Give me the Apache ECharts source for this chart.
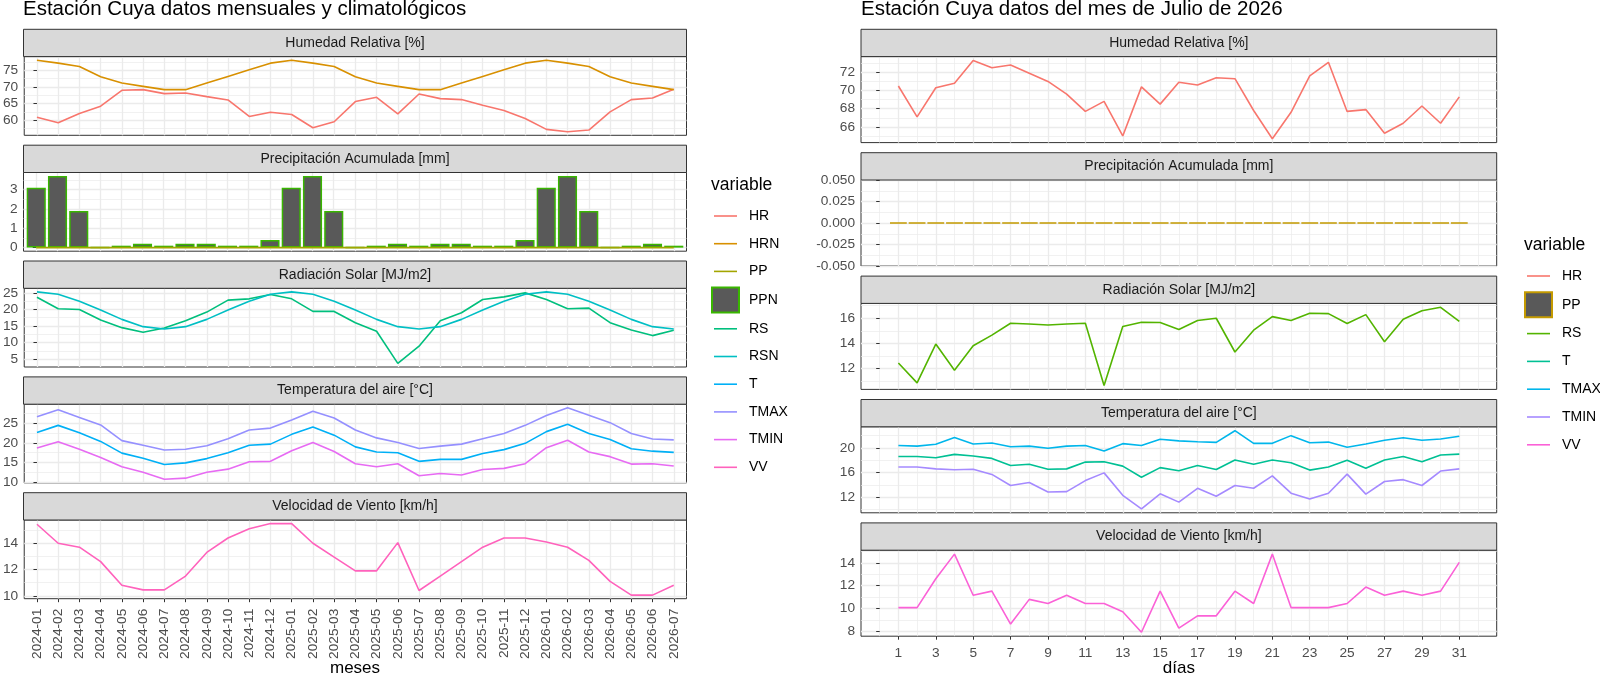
<!DOCTYPE html>
<html><head><meta charset="utf-8">
<script src="https://cdn.jsdelivr.net/npm/echarts@6/dist/echarts.min.js"></script>
<style>html,body{margin:0;padding:0;background:#fff}#c{width:1600px;height:676px}</style>
</head><body><div id="c"></div>
<script>
// ---------- DATA: monthly / climatological ----------
const months = ['2024-01','2024-02','2024-03','2024-04','2024-05','2024-06','2024-07','2024-08','2024-09','2024-10','2024-11','2024-12',
  '2025-01','2025-02','2025-03','2025-04','2025-05','2025-06','2025-07','2025-08','2025-09','2025-10','2025-11','2025-12',
  '2026-01','2026-02','2026-03','2026-04','2026-05','2026-06','2026-07'];
const HR   = [60.9,59.2,62.0,64.2,69.0,69.2,68.0,68.2,67.1,66.1,61.1,62.4,61.7,57.7,59.5,65.6,66.9,61.9,67.9,66.5,66.2,64.5,62.9,60.5,57.2,56.5,57.0,62.5,66.2,66.7,69.3];
const HRN  = [78.1,77.2,76.2,73.1,71.2,70.2,69.2,69.2,71.2,73.2,75.2,77.2,78.1,77.2,76.2,73.1,71.2,70.2,69.2,69.2,71.2,73.2,75.2,77.2,78.1,77.2,76.2,73.1,71.2,70.2,69.2];
const PP   = [0,0,0,0,0,0,0,0,0,0,0,0,0,0,0,0,0,0,0,0,0,0,0,0,0,0,0,0,0,0,0];
const PPN  = [3.1,3.7,1.9,0,0.1,0.2,0.1,0.2,0.2,0.1,0.1,0.4,3.1,3.7,1.9,0,0.1,0.2,0.1,0.2,0.2,0.1,0.1,0.4,3.1,3.7,1.9,0,0.1,0.2,0.1];
const RS   = [23.7,20.2,20.0,16.8,14.5,13.1,14.4,16.6,19.2,22.8,23.2,24.5,23.2,19.4,19.4,16.0,13.4,3.7,8.9,16.6,19.0,23.0,23.8,25.0,23.0,20.2,20.4,16.0,13.8,12.1,13.7];
const RSN  = [25.3,24.6,22.5,19.8,17.0,14.8,14.1,14.8,17.0,19.8,22.5,24.6,25.3,24.6,22.5,19.8,17.0,14.8,14.1,14.8,17.0,19.8,22.5,24.6,25.3,24.6,22.5,19.8,17.0,14.8,14.1];
const T    = [22.7,24.5,22.6,20.4,17.4,16.1,14.5,14.9,16.0,17.5,19.4,19.7,22.2,24.1,22.0,19.0,17.7,17.5,15.3,15.8,15.8,17.3,18.3,19.9,22.9,24.8,22.4,20.9,18.5,17.9,17.6];
const TMAX = [26.7,28.5,26.5,24.6,20.6,19.4,18.2,18.4,19.3,21.1,23.3,23.8,25.9,28.1,26.4,23.3,21.3,20.1,18.6,19.2,19.7,21.1,22.4,24.5,27.0,29.0,27.1,25.2,22.4,21.0,20.8];
const TMIN = [18.7,20.3,18.4,16.3,13.9,12.5,10.7,11.0,12.5,13.3,15.2,15.3,18.0,20.1,17.8,14.7,13.9,14.7,11.6,12.2,11.8,13.2,13.5,14.7,18.8,20.7,17.7,16.5,14.6,14.7,14.1];
const VV   = [15.45,14.0,13.7,12.6,10.8,10.45,10.45,11.5,13.3,14.4,15.1,15.5,15.5,14.0,12.95,11.9,11.9,14.05,10.4,11.5,12.6,13.7,14.4,14.4,14.1,13.7,12.7,11.1,10.05,10.05,10.8];

// ---------- DATA: daily, July 2026 ----------
const days  = [1,2,3,4,5,6,7,8,9,10,11,12,13,14,15,16,17,18,19,20,21,22,23,24,25,26,27,28,29,30,31];
const dayTicks = [1,3,5,7,9,11,13,15,17,19,21,23,25,27,29,31];
const dHR   = [70.5,67.1,70.3,70.8,73.3,72.5,72.8,71.9,71.0,69.6,67.7,68.8,65.0,70.4,68.5,70.9,70.6,71.4,71.3,67.8,64.7,67.6,71.6,73.1,67.7,67.9,65.3,66.4,68.3,66.4,69.3];
const dPP   = [0,0,0,0,0,0,0,0,0,0,0,0,0,0,0,0,0,0,0,0,0,0,0,0,0,0,0,0,0,0,0];
const dRS   = [12.45,10.87,13.95,11.87,13.82,14.66,15.6,15.55,15.47,15.55,15.6,10.66,15.34,15.68,15.66,15.1,15.82,16.0,13.32,15.05,16.13,15.82,16.4,16.37,15.58,16.29,14.13,15.92,16.6,16.87,15.75];
const dT    = [18.6,18.6,18.4,18.95,18.7,18.3,17.15,17.35,16.55,16.6,17.7,17.75,17.05,15.25,16.8,16.3,17.15,16.5,18.05,17.35,18.05,17.6,16.4,16.9,18.0,16.7,18.05,18.6,17.75,18.85,19.0];
const dTMAX = [20.4,20.3,20.6,21.7,20.65,20.8,20.2,20.3,19.95,20.3,20.4,19.5,20.7,20.4,21.4,21.15,21.0,20.9,22.8,20.75,20.75,22.0,20.85,20.95,20.1,20.65,21.25,21.65,21.25,21.45,21.9];
const dTMIN = [16.9,16.9,16.6,16.45,16.55,15.7,13.9,14.4,12.85,12.9,14.7,15.95,12.3,10.1,12.55,11.2,13.45,12.15,13.9,13.45,15.45,12.65,11.7,12.65,15.75,12.5,14.55,14.85,13.9,16.25,16.6];
const dVV   = [10.08,10.08,12.6,14.76,11.16,11.52,8.64,10.8,10.44,11.16,10.44,10.44,9.72,7.92,11.52,8.28,9.36,9.36,11.52,10.44,14.76,10.08,10.08,10.08,10.44,11.88,11.16,11.52,11.16,11.52,14.04];

const stripLabels = ['Humedad Relativa [%]','Precipitación Acumulada [mm]','Radiación Solar [MJ/m2]','Temperatura del aire [°C]','Velocidad de Viento [km/h]'];
const titleLeft  = 'Estación Cuya datos mensuales y climatológicos';
const titleRight = 'Estación Cuya datos del mes de Julio de 2026';
const xTitleLeft = 'meses';
const xTitleRight = 'días';
const legendLeft  = ['HR','HRN','PP','PPN','RS','RSN','T','TMAX','TMIN','VV'];
const legendLeftBars = ['PPN'];
const legendRight = ['HR','PP','RS','T','TMAX','TMIN','VV'];
const legendRightBars = ['PP'];

// ---------- LAYOUT ----------
const FF = '"Liberation Sans", Arial, Helvetica, sans-serif';
const L = {left: 23.5, width: 663, tops: [56.6,172.5,288.3,404.2,520.0], h: 78.7};
const R = {left: 861, width: 635.7, tops: [56.6,180.0,303.4,426.8,550.2], h: 86};
const STRIP_H = 27.3;
const GRID_C = '#EBEBEB';
const TICK_FS = 13.7;
const LINE_ICON = 'path://M0,0L0,0M2,11.7L25,11.7L25,13.3L2,13.3ZM27,25L27,25';

const grids = [];
L.tops.forEach(t => grids.push({left: L.left, top: t, width: L.width, height: L.h, show: true, borderColor: '#333333', borderWidth: 1, backgroundColor: 'transparent', containLabel: false}));
R.tops.forEach(t => grids.push({left: R.left, top: t, width: R.width, height: R.h, show: true, borderColor: '#333333', borderWidth: 1, backgroundColor: 'transparent', containLabel: false}));

function ext(arrs, incl0) {
  const all = [].concat(...arrs); if (incl0) all.push(0);
  const mn = Math.min(...all), mx = Math.max(...all), r = mx - mn;
  if (r === 0) return [mn - 0.05, mx + 0.05];
  return [mn - 0.05 * r, mx + 0.05 * r];
}
function tickList(mn, mx, step) {
  const a = [];
  for (let k = Math.ceil(mn / step - 1e-9); k * step <= mx + 1e-9; k++) a.push(+(k * step).toFixed(6));
  return a;
}
function yAx(gi, arrs, step, dec, incl0) {
  const [mn, mx] = ext(arrs, incl0);
  const ticks = tickList(mn, mx, step);
  return {type: 'value', gridIndex: gi, min: mn, max: mx, minInterval: step, maxInterval: step, splitNumber: 5,
    axisLine: {show: false},
    axisTick: {show: true, length: 3.5, customValues: ticks, lineStyle: {color: '#333333', width: 1}},
    axisLabel: {color: '#4D4D4D', fontSize: TICK_FS, fontFamily: FF, margin: 6, customValues: ticks,
      formatter: v => (Math.abs(v) < 1e-9 ? 0 : v).toFixed(dec)},
    splitLine: {show: true, lineStyle: {color: GRID_C, width: 1.3}},
    minorTick: {show: false, splitNumber: 2},
    minorSplitLine: {show: true, lineStyle: {color: GRID_C, width: 0.7}}};
}
const monthIdx = months.map((m, i) => i);
function xLeft(gi, bottom) {
  return {type: 'value', gridIndex: gi, min: -0.6, max: months.length - 0.4, minInterval: 1, maxInterval: 1,
    axisLine: {show: false},
    axisTick: {show: bottom, length: 3.5, customValues: monthIdx, lineStyle: {color: '#333333', width: 1}},
    axisLabel: {show: bottom, rotate: 90, color: '#4D4D4D', fontSize: TICK_FS, fontFamily: FF, margin: 10, customValues: monthIdx,
      formatter: v => months[Math.round(v)]},
    splitLine: {show: true, lineStyle: {color: GRID_C, width: 1.3}}};
}
function xRight(gi, bottom) {
  return {type: 'value', gridIndex: gi, min: -1, max: 33, interval: 2,
    axisLine: {show: false},
    axisTick: {show: bottom, length: 3.5, customValues: dayTicks, lineStyle: {color: '#333333', width: 1}},
    axisLabel: {show: bottom, color: '#4D4D4D', fontSize: TICK_FS, fontFamily: FF, margin: 10, customValues: dayTicks,
      formatter: v => String(v)},
    splitLine: {show: true, lineStyle: {color: GRID_C, width: 1.3}},
    minorTick: {show: false, splitNumber: 2},
    minorSplitLine: {show: true, lineStyle: {color: GRID_C, width: 0.7}}};
}

const xAxes = [0,1,2,3,4].map(i => xLeft(i, i === 4)).concat([5,6,7,8,9].map(i => xRight(i, i === 9)));
const yAxes = [
  yAx(0, [HR, HRN], 5, 0),
  yAx(1, [PPN, PP], 1, 0, true),
  yAx(2, [RS, RSN], 5, 0),
  yAx(3, [T, TMAX, TMIN], 5, 0),
  yAx(4, [VV], 2, 0),
  yAx(5, [dHR], 2, 0),
  yAx(6, [dPP], 0.025, 3, true),
  yAx(7, [dRS], 2, 0),
  yAx(8, [dT, dTMAX, dTMIN], 4, 0),
  yAx(9, [dVV], 2, 0)
];

const idx = arr => arr.map((v, i) => [i, v]);
const byDay = arr => arr.map((v, i) => [days[i], v]);
function line(name, gi, data, color) {
  return {type: 'line', name, xAxisIndex: gi, yAxisIndex: gi, data, symbol: 'none', showSymbol: false,
    lineStyle: {color, width: 1.6}, itemStyle: {color}, color, z: 3, silent: true};
}
function bar(name, gi, data, border, w) {
  return {type: 'bar', name, xAxisIndex: gi, yAxisIndex: gi, data, barWidth: w,
    itemStyle: {color: '#595959', borderColor: border, borderWidth: 1.5}, z: 2, silent: true};
}
const S = ' '; // suffix keeps the right-hand series distinct from the left-hand ones
const series = [
  line('HR', 0, idx(HR), '#F8766D'),
  line('HRN', 0, idx(HRN), '#D89000'),
  bar('PPN', 1, idx(PPN), '#39B600', 19.1),
  line('PP', 1, idx(PP), '#A3A500'),
  line('RS', 2, idx(RS), '#00BF7D'),
  line('RSN', 2, idx(RSN), '#00BFC4'),
  line('T', 3, idx(T), '#00B0F6'),
  line('TMAX', 3, idx(TMAX), '#9590FF'),
  line('TMIN', 3, idx(TMIN), '#E76BF3'),
  line('VV', 4, idx(VV), '#FF62BC'),
  line('HR' + S, 5, byDay(dHR), '#F8766D'),
  bar('PP' + S, 6, byDay(dPP), '#C49A00', 16.8),
  line('RS' + S, 7, byDay(dRS), '#53B400'),
  line('T' + S, 8, byDay(dT), '#00C094'),
  line('TMAX' + S, 8, byDay(dTMAX), '#00B6EB'),
  line('TMIN' + S, 8, byDay(dTMIN), '#A58AFF'),
  line('VV' + S, 9, byDay(dVV), '#FB61D7')
];

// strips and axis titles
const graphics = [];
function strip(left, width, top, label) {
  graphics.push({type: 'rect', silent: true, z: 10, shape: {x: left, y: top - STRIP_H, width: width, height: STRIP_H},
    style: {fill: '#D9D9D9', stroke: '#333333', lineWidth: 1}});
  graphics.push({type: 'text', silent: true, z: 11, x: left + width / 2, y: top - STRIP_H / 2,
    style: {text: label, align: 'center', verticalAlign: 'middle', fontSize: 14, fontFamily: FF, fill: '#1A1A1A'}});
}
L.tops.forEach((t, i) => strip(L.left, L.width, t, stripLabels[i]));
R.tops.forEach((t, i) => strip(R.left, R.width, t, stripLabels[i]));
const AXIS_TITLE_Y = 668;
graphics.push({type: 'text', silent: true, x: L.left + L.width / 2, y: AXIS_TITLE_Y,
  style: {text: xTitleLeft, align: 'center', verticalAlign: 'middle', fontSize: 17, fontFamily: FF, fill: '#000'}});
graphics.push({type: 'text', silent: true, x: R.left + R.width / 2, y: AXIS_TITLE_Y,
  style: {text: xTitleRight, align: 'center', verticalAlign: 'middle', fontSize: 17, fontFamily: FF, fill: '#000'}});

function legendItems(names, bars, suffix) {
  return names.map(n => bars.indexOf(n) >= 0
    ? {name: n + suffix, icon: 'rect'}
    : {name: n + suffix, icon: LINE_ICON, itemStyle: {borderWidth: 0}});
}
const legendCommon = {orient: 'vertical', itemWidth: 27, itemHeight: 25, padding: 0, selectedMode: false,
  textStyle: {fontSize: 14, color: '#000', fontFamily: FF, padding: [0, 0, 0, 5]}, formatter: n => n.trim()};

const option = {
  animation: false,
  backgroundColor: '#ffffff',
  textStyle: {fontFamily: FF},
  title: [
    {text: titleLeft, left: 23, top: -1, padding: 0, textStyle: {fontSize: 20.5, fontWeight: 'normal', color: '#000', fontFamily: FF}},
    {text: titleRight, left: 861, top: -1, padding: 0, textStyle: {fontSize: 20.5, fontWeight: 'normal', color: '#000', fontFamily: FF}},
    {text: 'variable', left: 711, top: 176, padding: 0, textStyle: {fontSize: 17.5, fontWeight: 'normal', color: '#000', fontFamily: FF}},
    {text: 'variable', left: 1524, top: 236, padding: 0, textStyle: {fontSize: 17.5, fontWeight: 'normal', color: '#000', fontFamily: FF}}
  ],
  legend: [
    Object.assign({}, legendCommon, {left: 711, top: 203.5, itemGap: 2.7, data: legendItems(legendLeft, legendLeftBars, '')}),
    Object.assign({}, legendCommon, {left: 1524, top: 263.5, itemGap: 2.8, data: legendItems(legendRight, legendRightBars, S)})
  ],
  grid: grids,
  xAxis: xAxes,
  yAxis: yAxes,
  series: series,
  graphic: graphics
};
const chart = echarts.init(document.getElementById('c'), null, {renderer: 'canvas'});
chart.setOption(option);
</script>
</body></html>
